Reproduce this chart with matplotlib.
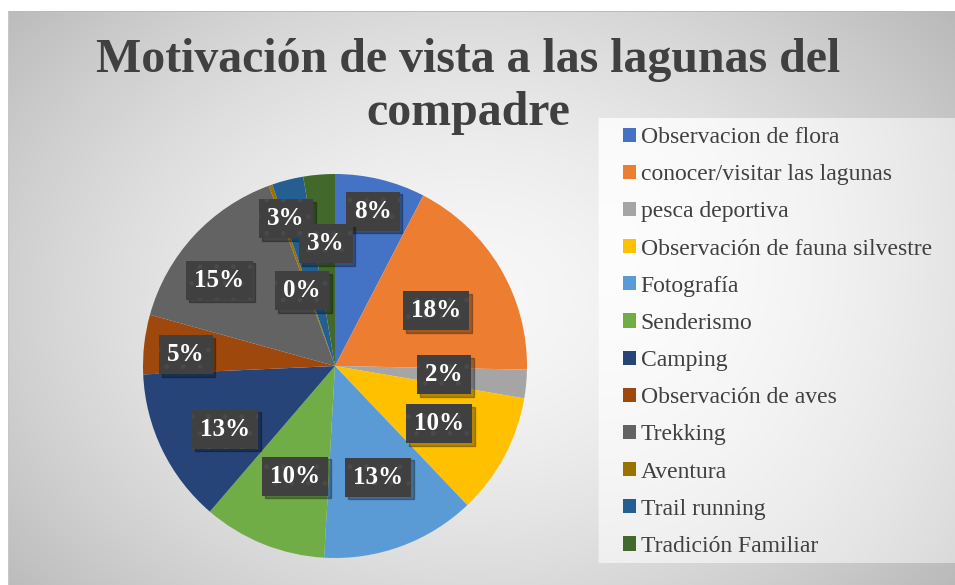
import numpy as np
import matplotlib.pyplot as plt
from matplotlib import patheffects as pe

# datos (porcentajes)
categorias = ['Observacion de flora', 'conocer/visitar las lagunas', 'pesca deportiva',
              'Observación de fauna silvestre', 'Fotografía', 'Senderismo', 'Camping',
              'Observación de aves', 'Trekking', 'Aventura', 'Trail running',
              'Tradición Familiar']
valores = [7.6, 17.7, 2.4, 10.2, 13.0, 10.4, 13.0, 5.0, 15.1, 0.3, 2.65, 2.65]
colores = ['#4472C4', '#ED7D31', '#A5A5A5', '#FFC000', '#5B9BD5', '#70AD47',
           '#264478', '#9E480E', '#636363', '#997300', '#255E91', '#43682B']

# posicion de las etiquetas (fraccion del radio, desplazamiento angular en grados)
lab_r = [0.83, 0.60, 0.57, 0.62, 0.62, 0.61, 0.66, 0.78, 0.75, 0.43, 0.81, 0.64]
lab_da = [0, 2, -1, 1, -1, -2, -4, -2, -6, -4, -4, 0.5]

W, H = 955, 585
fig = plt.figure(figsize=(W / 100, H / 100), dpi=100)

# fondo con degradado radial
bg = fig.add_axes([0, 0, 1, 1])
bg.set_axis_off()
yy, xx = np.mgrid[0:H, 0:W]
d = np.sqrt(((xx - 470) / 560.0) ** 2 + ((yy - 300) / 420.0) ** 2)
g = 0.97 - 0.21 * np.clip(d, 0, 1.2) ** 1.6
img = np.ones((H, W))
img[11:, 8:] = g[11:, 8:]
img[11, 8:] = 0.73
img[11:, 8] = 0.78
# caja de la leyenda
lx0, lx1, ly0, ly1 = 598, 955, 118, 563
ld = np.sqrt(((xx - 600) / 460.0) ** 2 + ((yy - 250) / 560.0) ** 2)
lg = 0.99 - 0.15 * np.clip(ld, 0, 1.2) ** 1.8
img[ly0:ly1, lx0:lx1] = lg[ly0:ly1, lx0:lx1]
bg.imshow(np.dstack([img] * 3), extent=(0, W, H, 0), aspect='auto', interpolation='bilinear')
bg.set_xlim(0, W)
bg.set_ylim(H, 0)

# titulo (dos lineas)
tkw = dict(ha='center', va='center', family='Liberation Serif', fontweight='bold',
           fontsize=34.5, color='#404040')
fig.text(468 / W, 1 - 60 / H, 'Motivación de vista a las lagunas del', **tkw)
fig.text(468 / W, 1 - 113 / H, 'compadre', **tkw)

# pastel
R = 192
cx, cy = 335, 366
ax = fig.add_axes([(cx - R) / W, (H - cy - R) / H, 2 * R / W, 2 * R / H])
wedges, _ = ax.pie(valores, colors=colores, startangle=90, counterclock=False,
                   wedgeprops=dict(linewidth=0))
ax.set_xlim(-1, 1)
ax.set_ylim(-1, 1)
ax.set_aspect('auto')

plt.rcParams['hatch.linewidth'] = 1.0
total = sum(valores)
acum = 0
for i, v in enumerate(valores):
    mid = (acum + v / 2) / total * 360 + lab_da[i]
    acum += v
    th = np.radians(mid)
    x, y = lab_r[i] * np.sin(th), lab_r[i] * np.cos(th)
    # sombra
    sh = ax.text(x, y, f'{round(v)}%', ha='center', va='center', color='none',
                 fontsize=18, fontweight='bold', family='Liberation Serif',
                 bbox=dict(boxstyle='square,pad=0.32', fc='black', lw=0, alpha=0.3))
    sh.get_bbox_patch().set_path_effects(
        [pe.PathPatchEffect(offset=(2, -2), facecolor='black', alpha=0.3)])
    ax.text(x, y, f'{round(v)}%', ha='center', va='center', color='white',
            fontsize=18, fontweight='bold', family='Liberation Serif',
            bbox=dict(boxstyle='square,pad=0.32', fc='#404040', ec='#4a4a4a',
                      lw=0, hatch='.'))

# leyenda
leg = fig.legend(wedges, categorias, loc='upper left',
                 bbox_to_anchor=(623 / W, 1 - 127 / H), frameon=False,
                 prop={'family': 'Liberation Serif', 'size': 17},
                 handlelength=0.55, handleheight=0.55, handletextpad=0.2,
                 labelspacing=0.685, borderaxespad=0, borderpad=0)
for txt in leg.get_texts():
    txt.set_color('#404040')

fig.savefig('out.png', dpi=100)
